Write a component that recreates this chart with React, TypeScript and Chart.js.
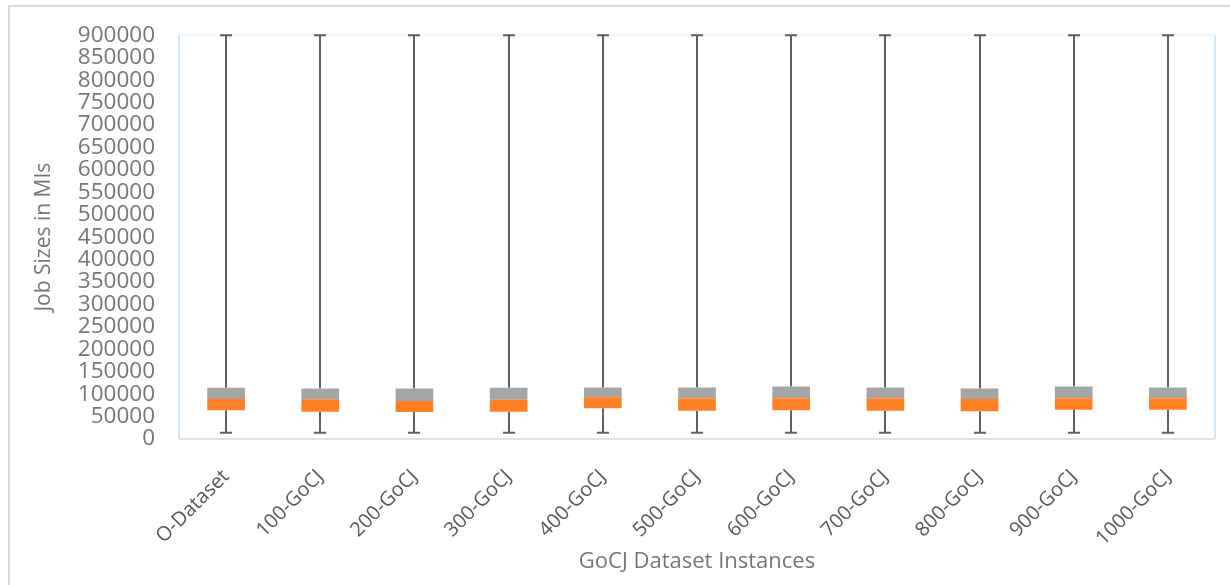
import React, { useEffect, useRef } from "react";
import { Chart, registerables } from "chart.js";

Chart.register(...registerables);

const categories = [
  "O-Dataset", "100-GoCJ", "200-GoCJ", "300-GoCJ", "400-GoCJ", "500-GoCJ",
  "600-GoCJ", "700-GoCJ", "800-GoCJ", "900-GoCJ", "1000-GoCJ",
];
const minValues = [14000, 14000, 14000, 14000, 14000, 14000, 14000, 14000, 14000, 14000, 14000];
const q1Values = [64000, 61000, 60300, 61000, 68500, 63200, 64000, 63200, 61900, 65400, 65400];
const medianValues = [89000, 88400, 84600, 87500, 92800, 90600, 90600, 90600, 89000, 90600, 90600];
const q3Values = [114000, 112700, 112700, 114000, 115000, 115000, 117000, 115000, 112700, 117000, 115000];
const maxValues = [900000, 900000, 900000, 900000, 900000, 900000, 900000, 900000, 900000, 900000, 900000];

const FONT = "'Open Sans', 'DejaVu Sans', sans-serif";

const framePlugin = {
  id: "frame",
  beforeDraw(chart: any) {
    const { ctx, chartArea } = chart;
    ctx.save();
    ctx.fillStyle = "#ffffff";
    ctx.fillRect(0, 0, chart.width, chart.height);
    ctx.strokeStyle = "#d9d9d9";
    ctx.lineWidth = 2;
    ctx.beginPath();
    ctx.moveTo(9, chart.height + 2);
    ctx.lineTo(9, 6);
    ctx.lineTo(chart.width + 2, 6);
    ctx.stroke();
    const { left, right, top, bottom } = chartArea;
    ctx.lineWidth = 2;
    ctx.strokeStyle = "#eef5fb";
    ctx.beginPath();
    ctx.moveTo(left, top);
    ctx.lineTo(right, top);
    ctx.stroke();
    ctx.strokeStyle = "#cfe4f5";
    ctx.beginPath();
    ctx.moveTo(left, top);
    ctx.lineTo(left, bottom);
    ctx.moveTo(right, top);
    ctx.lineTo(right, bottom);
    ctx.stroke();
    ctx.strokeStyle = "#dde3e8";
    ctx.beginPath();
    ctx.moveTo(left, bottom);
    ctx.lineTo(right, bottom);
    ctx.stroke();
    ctx.restore();
  },
};

const whiskerPlugin = {
  id: "whiskers",
  beforeDatasetsDraw(chart: any) {
    const { ctx } = chart;
    const x = chart.scales.x;
    const y = chart.scales.y;
    ctx.save();
    ctx.strokeStyle = "#606060";
    ctx.lineWidth = 2;
    const cap = 6;
    categories.forEach((_, i) => {
      const cx = Math.round(x.getPixelForValue(i));
      const yMin = y.getPixelForValue(minValues[i]);
      const yQ1 = y.getPixelForValue(q1Values[i]);
      const yQ3 = y.getPixelForValue(q3Values[i]);
      const yMax = y.getPixelForValue(maxValues[i]);
      ctx.beginPath();
      ctx.moveTo(cx, yMin);
      ctx.lineTo(cx, yQ1);
      ctx.moveTo(cx, yQ3);
      ctx.lineTo(cx, yMax);
      ctx.moveTo(cx - cap, yMin);
      ctx.lineTo(cx + cap, yMin);
      ctx.moveTo(cx - cap, yMax);
      ctx.lineTo(cx + cap, yMax);
      ctx.stroke();
    });
    ctx.restore();
  },
};

export default function App() {
  const canvasRef = useRef<HTMLCanvasElement | null>(null);

  useEffect(() => {
    if (!canvasRef.current) return;
    const lower = categories.map((_, i) => [q1Values[i], medianValues[i]]);
    const upper = categories.map((_, i) => [medianValues[i], q3Values[i]]);
    const chart = new Chart(canvasRef.current, {
      type: "bar",
      data: {
        labels: categories,
        datasets: [
          {
            label: "Q1-Median",
            data: lower as any,
            backgroundColor: "#ff7f24",
            borderWidth: 0,
          },
          {
            label: "Median-Q3",
            data: upper as any,
            backgroundColor: "#a5a5a5",
            borderWidth: 0,
          },
        ],
      },
      options: {
        responsive: true,
        maintainAspectRatio: false,
        animation: false,
        layout: { padding: { top: 32, right: 15, bottom: 0, left: 0 } },
        datasets: { bar: { categoryPercentage: 1, barPercentage: 0.4 } },
        plugins: {
          legend: { display: false },
          tooltip: { enabled: false },
        },
        scales: {
          x: {
            stacked: true,
            grid: { display: false, drawTicks: false },
            border: { display: false },
            ticks: {
              minRotation: 45,
              maxRotation: 45,
              autoSkip: false,
              padding: 26,
              color: "#595959",
              font: { family: FONT, size: 20 },
            },
            title: {
              display: true,
              text: "GoCJ Dataset Instances",
              color: "#767676",
              font: { family: FONT, size: 22 },
              padding: { top: 0, bottom: 10 },
            },
            afterFit(scale: any) {
              scale.height = 146;
            },
          },
          y: {
            stacked: false,
            min: 0,
            max: 900000,
            grid: { display: false, drawTicks: false },
            border: { display: false },
            ticks: {
              stepSize: 50000,
              autoSkip: false,
              padding: 24,
              color: "#767676",
              font: { family: FONT, size: 22.5, lineHeight: 1 },
              callback: (v: any) => String(v),
            },
            title: {
              display: true,
              text: "Job Sizes in MIs",
              color: "#767676",
              font: { family: FONT, size: 21 },
              padding: { top: 31, bottom: 0 },
            },
            afterFit(scale: any) {
              scale.width = 179;
            },
          },
        },
      },
      plugins: [framePlugin, whiskerPlugin],
    });
    return () => chart.destroy();
  }, []);

  return (
    <div style={{ position: "fixed", left: 0, top: 0, width: 1230, height: 585, background: "#fff" }}>
      <canvas ref={canvasRef} />
    </div>
  );
}
